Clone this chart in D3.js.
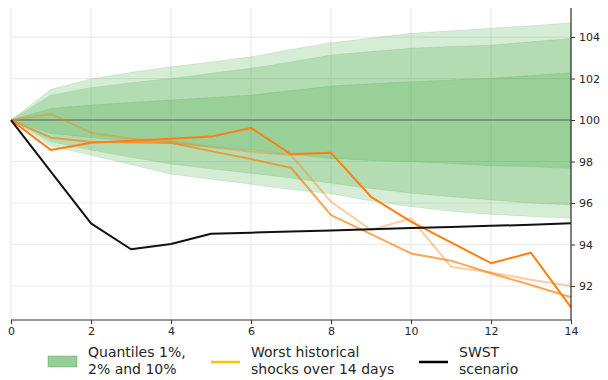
<!DOCTYPE html>
<html>
<head>
<meta charset="utf-8">
<script src="https://cdn.jsdelivr.net/npm/d3@7"></script>
<style>
  html, body { margin: 0; padding: 0; background: #fff; }
  svg { display: block; font-family: "DejaVu Sans", sans-serif; }
</style>
</head>
<body>
<svg id="chart" width="608" height="380"></svg>
<script>
// Horizon in days
const days = [0, 1, 2, 3, 4, 5, 6, 7, 8, 9, 10, 11, 12, 13, 14];

// Simulated quantile envelopes (upper / lower bounds)
const upper1  = [100, 101.48, 101.98, 102.30, 102.57, 102.80, 103.05, 103.40, 103.73, 103.95, 104.18, 104.30, 104.42, 104.55, 104.69];
const upper2  = [100, 101.20, 101.56, 101.80, 102.00, 102.25, 102.49, 102.80, 103.13, 103.30, 103.46, 103.55, 103.61, 103.77, 103.93];
const upper10 = [100, 100.56, 100.72, 100.85, 100.96, 101.08, 101.20, 101.42, 101.64, 101.75, 101.85, 101.93, 102.01, 102.15, 102.28];
const lower10 = [100, 99.35, 99.15, 99.00, 98.85, 98.70, 98.55, 98.35, 98.15, 98.05, 97.99, 97.90, 97.80, 97.75, 97.67];
const lower2  = [100, 98.95, 98.55, 98.20, 97.88, 97.65, 97.43, 97.20, 96.95, 96.70, 96.47, 96.30, 96.15, 96.00, 95.90];
const lower1  = [100, 98.75, 98.30, 97.85, 97.38, 97.15, 96.90, 96.65, 96.45, 96.10, 95.82, 95.60, 95.45, 95.35, 95.26];

// Worst historical 14-day shock paths
const worstA = [100, 98.55, 98.90, 99.00, 99.10, 99.20, 99.62, 98.35, 98.42, 96.30, 95.10, 94.10, 93.10, 93.60, 90.97];
const worstB = [100, 99.15, 98.95, 98.92, 98.90, 98.50, 98.12, 97.70, 95.42, 94.50, 93.57, 93.22, 92.61, 92.05, 91.46];
const worstC = [100, 100.29, 99.39, 99.10, 98.98, 98.70, 98.47, 98.31, 96.06, 94.70, 95.26, 92.93, 92.65, 92.30, 92.00];

// SWST scenario path
const swst = [100, 97.50, 95.02, 93.77, 94.02, 94.52, 94.57, 94.63, 94.68, 94.74, 94.79, 94.84, 94.90, 94.95, 95.02];

// Axis ticks
const xTicks = [0, 2, 4, 6, 8, 10, 12, 14];
const yTicks = [92, 94, 96, 98, 100, 102, 104];

// Legend labels
const legendItems = [
  { kind: "patch", lines: ["Quantiles 1%,", "2% and 10%"], color: "#2ca02c" },
  { kind: "line",  lines: ["Worst historical", "shocks over 14 days"], color: "#ffc000" },
  { kind: "line",  lines: ["SWST", "scenario"], color: "#000000" }
];

const svg = d3.select("#chart");
const plot = { left: 11, right: 571, top: 8, bottom: 320 };

const x = d3.scaleLinear().domain([0, 14]).range([plot.left, plot.right]);
const y = d3.scaleLinear().domain([90.36, 105.4]).range([plot.bottom, plot.top]);

// Grid
const grid = svg.append("g");
grid.selectAll("line.gx").data(xTicks).enter().append("line")
  .attr("x1", d => x(d)).attr("x2", d => x(d))
  .attr("y1", plot.top).attr("y2", plot.bottom)
  .attr("stroke", "#ebebeb").attr("stroke-width", 1.2);
grid.selectAll("line.gy").data(yTicks).enter().append("line")
  .attr("x1", plot.left).attr("x2", plot.right)
  .attr("y1", d => y(d)).attr("y2", d => y(d))
  .attr("stroke", "#ebebeb").attr("stroke-width", 1.2);

// Quantile bands, layered translucent green
const bands = [
  [lower1, upper1],
  [lower2, upper2],
  [lower10, upper10]
];
const area = d3.area()
  .x(d => x(d.day))
  .y0(d => y(d.lo))
  .y1(d => y(d.hi));
bands.forEach(([lo, hi]) => {
  const pts = days.map((d, i) => ({ day: d, lo: lo[i], hi: hi[i] }));
  svg.append("path").datum(pts)
    .attr("d", area)
    .attr("fill", "#2ca02c")
    .attr("fill-opacity", 0.2)
    .attr("stroke", "#2ca02c")
    .attr("stroke-opacity", 0.12)
    .attr("stroke-width", 1);
});

// Reference level at 100
svg.append("line")
  .attr("x1", plot.left).attr("x2", plot.right)
  .attr("y1", y(100)).attr("y2", y(100))
  .attr("stroke", "#707070").attr("stroke-opacity", 0.6).attr("stroke-width", 2);

const line = d3.line().x((d, i) => x(days[i])).y(d => y(d));

// Historical shock paths
[[worstC, 0.4], [worstB, 0.7], [worstA, 1.0]].forEach(([vals, op]) => {
  svg.append("path").datum(vals)
    .attr("d", line)
    .attr("fill", "none")
    .attr("stroke", "#ff7f0e")
    .attr("stroke-opacity", op)
    .attr("stroke-width", 2)
    .attr("stroke-linejoin", "round");
});

// SWST scenario
svg.append("path").datum(swst)
  .attr("d", line)
  .attr("fill", "none")
  .attr("stroke", "#111")
  .attr("stroke-width", 2)
  .attr("stroke-linejoin", "round");

// Axes
const xAxis = d3.axisBottom(x).tickValues(xTicks).tickSize(4).tickPadding(3);
const gx = svg.append("g").attr("transform", `translate(0,${plot.bottom})`).call(xAxis);
const yAxis = d3.axisRight(y).tickValues(yTicks).tickSize(4).tickPadding(4);
const gy = svg.append("g").attr("transform", `translate(${plot.right},0)`).call(yAxis);
gy.select(".domain").attr("d", `M0,${plot.top}V${plot.bottom}`);
gx.select(".domain").attr("d", `M${plot.left},0H${plot.right}`);
[gx, gy].forEach(g => {
  g.select(".domain").attr("stroke", "#333").attr("stroke-width", 1.2);
  g.selectAll(".tick line").attr("stroke", "#333").attr("stroke-width", 1);
  g.selectAll(".tick text")
    .attr("fill", "#262626")
    .style("font-family", "'DejaVu Sans', sans-serif")
    .style("font-size", "11px");
});

// Legend
const legendX = [48, 211, 419];
const legend = svg.append("g");
legendItems.forEach((item, i) => {
  const g = legend.append("g").attr("transform", `translate(${legendX[i]},0)`);
  if (item.kind === "patch") {
    g.append("rect")
      .attr("x", 0).attr("y", 356).attr("width", 29).attr("height", 11)
      .attr("fill", item.color).attr("fill-opacity", 0.5)
      .attr("stroke", item.color).attr("stroke-opacity", 0.35);
  } else {
    g.append("line")
      .attr("x1", 0).attr("x2", 29).attr("y1", 362).attr("y2", 362)
      .attr("stroke", item.color).attr("stroke-width", 2.5);
  }
  item.lines.forEach((t, j) => {
    g.append("text")
      .attr("x", 40).attr("y", 357 + j * 16.5)
      .attr("fill", "#262626")
      .style("font-size", "14px")
      .text(t);
  });
});
</script>
</body>
</html>
